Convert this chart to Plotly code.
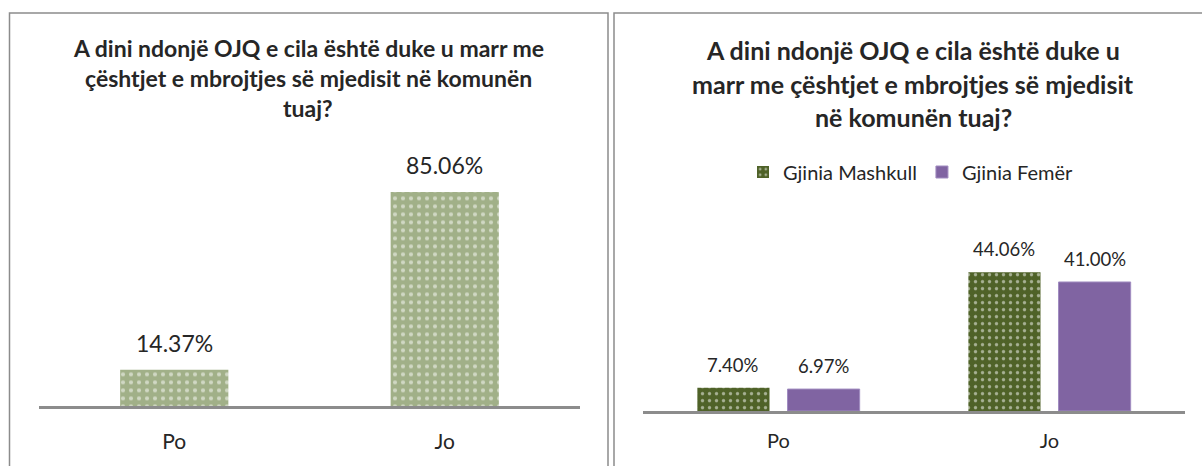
import plotly.graph_objects as go

# ---- data ----
categories = ["Po", "Jo"]
total_values = [14.37, 85.06]
male_values = [7.40, 44.06]
female_values = [6.97, 41.00]
series_names = ["Gjinia Mashkull", "Gjinia Femër"]
left_title_lines = ["A dini ndonjë OJQ e cila është duke u marr me",
                    "çështjet e mbrojtjes së mjedisit në komunën",
                    "tuaj?"]
right_title_lines = ["A dini ndonjë OJQ e cila është duke u",
                     "marr me çështjet e mbrojtjes së mjedisit",
                     "në komunën tuaj?"]

W, H = 1202, 466
FONT = "Lato"
TXT = "#262626"
GRID = "#8c8c8c"


def px(x):
    return x / W


def py(y):
    return (H - y) / H


fig = go.Figure()

# left chart
LEFT_W = 0.4
fig.add_trace(go.Bar(
    x=categories, y=total_values, xaxis="x", yaxis="y", width=LEFT_W,
    marker=dict(color="#a1b088", line=dict(width=0),
                pattern=dict(shape=".", fgcolor="white", bgcolor="#a1b088",
                             size=8, solidity=0.22)),
    showlegend=False, hoverinfo="skip"))

# right chart
BW = 0.2662
OFF_M = -0.2994
OFF_F = 0.0333
fig.add_trace(go.Bar(
    x=categories, y=male_values, xaxis="x2", yaxis="y2", name=series_names[0],
    width=BW, offset=OFF_M,
    marker=dict(color="#4f6228", line=dict(width=0),
                pattern=dict(shape=".", fgcolor="white", bgcolor="#4f6228",
                             size=7, solidity=0.18)),
    hoverinfo="skip"))
fig.add_trace(go.Bar(
    x=categories, y=female_values, xaxis="x2", yaxis="y2", name=series_names[1],
    width=BW, offset=OFF_F,
    marker=dict(color="#8064a2", line=dict(width=1, color="#a08cc0")),
    hoverinfo="skip"))

annotations = []
# data labels
for i, v in enumerate(total_values):
    annotations.append(dict(x=i, y=v, xref="x", yref="y", text=f"{v:.2f}%",
                            showarrow=False, yanchor="bottom", yshift=11,
                            font=dict(family=FONT, size=23, color=TXT)))
for i, v in enumerate(male_values):
    annotations.append(dict(x=i + OFF_M + BW / 2, y=v, xref="x2", yref="y2",
                            text=f"{v:.2f}%", showarrow=False, yanchor="bottom",
                            yshift=10, font=dict(family=FONT, size=18.5, color=TXT)))
for i, v in enumerate(female_values):
    annotations.append(dict(x=i + OFF_F + BW / 2, y=v, xref="x2", yref="y2",
                            text=f"{v:.2f}%", showarrow=False, yanchor="bottom",
                            yshift=10, font=dict(family=FONT, size=18.5, color=TXT)))

# titles
for k, line in enumerate(left_title_lines):
    annotations.append(dict(x=px(308), y=py(48 + 30 * k), xref="paper", yref="paper",
                            text=f"<b>{line}</b>", showarrow=False,
                            xanchor="center", yanchor="middle",
                            font=dict(family=FONT, size=23, color=TXT)))
for k, line in enumerate(right_title_lines):
    annotations.append(dict(x=px(913), y=py(50 + 33.5 * k), xref="paper", yref="paper",
                            text=f"<b>{line}</b>", showarrow=False,
                            xanchor="center", yanchor="middle",
                            font=dict(family=FONT, size=25, color=TXT)))

shapes = [
    dict(type="rect", xref="paper", yref="paper", x0=px(9.5), x1=px(608),
         y0=py(475), y1=py(13), line=dict(color=GRID, width=1.5)),
    dict(type="rect", xref="paper", yref="paper", x0=px(614), x1=px(1210),
         y0=py(475), y1=py(13), line=dict(color=GRID, width=1.5)),
]

axis_common = dict(showgrid=False, zeroline=False, showline=True, linecolor=GRID,
                   linewidth=2.5, ticks="outside", tickcolor="rgba(0,0,0,0)",
                   fixedrange=True)

fig.update_layout(
    width=W, height=H, margin=dict(l=0, r=0, t=0, b=0),
    paper_bgcolor="white", plot_bgcolor="white",
    barmode="overlay",
    font=dict(family=FONT, color=TXT),
    xaxis=dict(domain=[px(39), px(580)], anchor="y", type="category",
               range=[-0.5, 1.5], ticklen=15,
               tickfont=dict(family=FONT, size=21, color=TXT), **axis_common),
    yaxis=dict(domain=[py(406), py(406 - 100 * 2.516)], anchor="x", range=[0, 100],
               visible=False, fixedrange=True),
    xaxis2=dict(domain=[px(643), px(1185)], anchor="y2", type="category",
                range=[-0.5, 1.5], ticklen=10,
                tickfont=dict(family=FONT, size=20, color=TXT), **axis_common),
    yaxis2=dict(domain=[py(411), py(411 - 60 * 3.147)], anchor="x2", range=[0, 60],
                visible=False, fixedrange=True),
    legend=dict(orientation="h", x=px(911), y=py(172), xanchor="center",
                yanchor="middle", font=dict(family=FONT, size=20, color=TXT),
                itemwidth=30, traceorder="normal", bgcolor="rgba(0,0,0,0)"),
    annotations=annotations,
    shapes=shapes,
    showlegend=True,
)

fig.write_html("out.html", config={"displayModeBar": False},
               post_script="document.body.style.margin='0px';document.body.style.padding='0px';")
